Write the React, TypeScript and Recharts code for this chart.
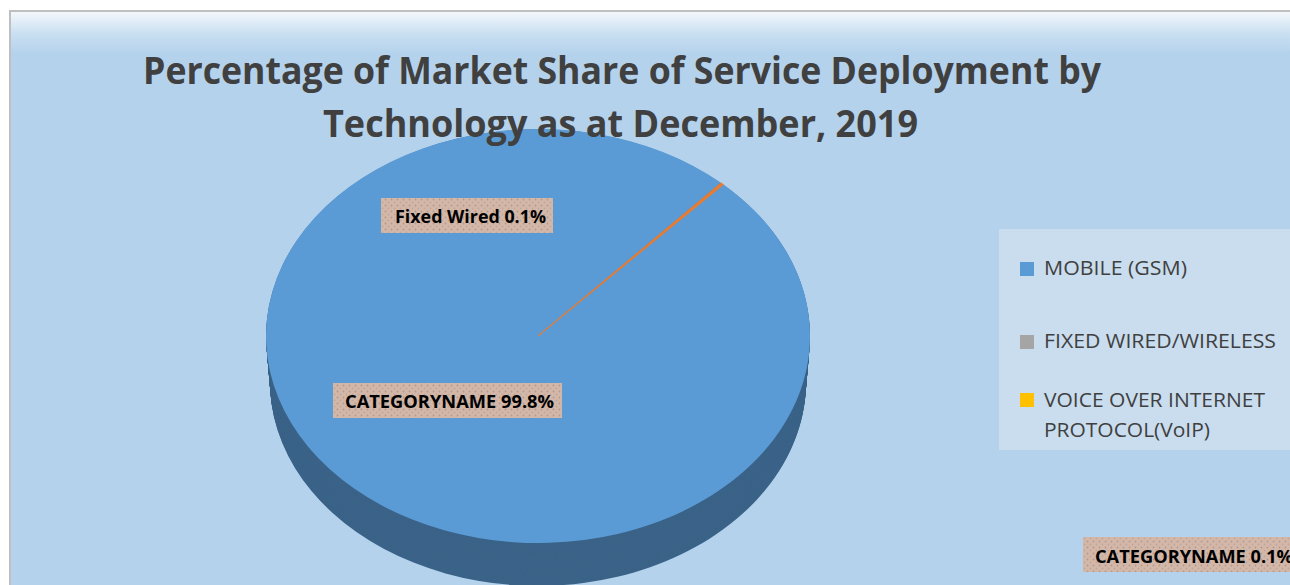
import React from 'react';
import { PieChart, Pie, Cell } from 'recharts';

const categories = ['MOBILE (GSM)', 'FIXED WIRED/WIRELESS', 'VOICE OVER INTERNET PROTOCOL(VoIP)'];
const shares = [99.8, 0.1, 0.1];
const sliceColors = ['#5B9BD5', '#ED7D31', '#E9833F'];
const sideColors = ['#3B6388', '#A04F1C', '#A04F1C'];
const legendColors = ['#5B9BD5', '#A5A5A5', '#FFC000'];
const sliceLabels = ['CATEGORYNAME 99.8%', 'Fixed Wired 0.1%', 'CATEGORYNAME 0.1%'];

const data = categories.map((name, i) => ({ name, value: shares[i] }));

const W = 1290;
const H = 585;
const TILT = 0.761;
const CX = 538;
const CY = 336 / TILT;
const R = 272;
const DEPTH = 46 / TILT;
const SHRINK = 4; // bottom edge a little narrower, like the perspective in the original
const START = 47;

const depthSteps: number[] = [];
for (let d = DEPTH; d > 0; d -= 1.5) depthSteps.push(d);

// label boxes placed where the original chart had them
const labelBoxes = [
  { x: 333, y: 383, w: 229, h: 35, tx: 345, ty: 408, tw: 209 },
  { x: 381, y: 198, w: 172, h: 35, tx: 395, ty: 223, tw: 151 },
  { x: 1083, y: 537, w: 224, h: 35, tx: 1095, ty: 563, tw: 198 },
];

const legendRows = [
  { sq: 262, lines: [{ t: 'MOBILE (GSM)', y: 275, w: 143 }] },
  { sq: 335, lines: [{ t: 'FIXED WIRED/WIRELESS', y: 348, w: 232 }] },
  {
    sq: 393,
    lines: [
      { t: 'VOICE OVER INTERNET', y: 407, w: 221 },
      { t: 'PROTOCOL(VoIP)', y: 437, w: 166 },
    ],
  },
];

const font = '"Open Sans", "Noto Sans", sans-serif';

export default function App() {
  return (
    <div
      style={{
        position: 'absolute',
        left: 0,
        top: 0,
        width: W,
        height: H,
        overflow: 'hidden',
        background: '#fff',
      }}
    >
      <div
        style={{
          position: 'absolute',
          left: 9,
          top: 10,
          width: W,
          height: H,
          borderLeft: '2px solid #BFBFBF',
          borderTop: '2px solid #BFBFBF',
          background: 'linear-gradient(to bottom, #F3F7FC 0px, #C9DFF1 22px, #B4D2EC 42px, #B4D2EC 100%)',
        }}
      />
      <div
        style={{
          position: 'absolute',
          left: 0,
          top: 0,
          width: W,
          height: 800,
          transform: `scaleY(${TILT})`,
          transformOrigin: '0 0',
        }}
      >
        <PieChart width={W} height={800} margin={{ top: 0, right: 0, bottom: 0, left: 0 }}>
          {depthSteps.map((d) => (
            <Pie
              key={'side' + d}
              data={data}
              dataKey="value"
              nameKey="name"
              cx={CX}
              cy={CY + d}
              outerRadius={R - (SHRINK * d) / DEPTH}
              startAngle={START}
              endAngle={START - 360}
              stroke="none"
              isAnimationActive={false}
            >
              {data.map((e, i) => (
                <Cell key={e.name} fill={sideColors[i]} />
              ))}
            </Pie>
          ))}
          <Pie
            data={data}
            dataKey="value"
            nameKey="name"
            cx={CX}
            cy={CY}
            outerRadius={R}
            startAngle={START}
            endAngle={START - 360}
            stroke="none"
            isAnimationActive={false}
          >
            {data.map((e, i) => (
              <Cell key={e.name} fill={sliceColors[i]} stroke={i > 0 ? '#ED7D31' : 'none'} strokeWidth={i > 0 ? 0.8 : 0} />
            ))}
          </Pie>
        </PieChart>
      </div>
      <svg
        width={W}
        height={H}
        style={{ position: 'absolute', left: 0, top: 0, fontFamily: font }}
      >
        <defs>
          <pattern id="dots" width="6" height="6" patternUnits="userSpaceOnUse">
            <rect width="6" height="6" fill="#D3B7A8" />
            <circle cx="1.5" cy="1.5" r="0.9" fill="#B59A8C" />
            <circle cx="4.5" cy="4.5" r="0.9" fill="#C2A698" />
          </pattern>
        </defs>
        <text x={143} y={84} fontSize={37} fontWeight={700} fill="#404040" textLength={958} lengthAdjust="spacingAndGlyphs">
          Percentage of Market Share of Service Deployment by
        </text>
        <text x={323} y={137} fontSize={37} fontWeight={700} fill="#404040" textLength={595} lengthAdjust="spacingAndGlyphs">
          Technology as at December, 2019
        </text>

        {labelBoxes.map((b, i) => (
          <g key={sliceLabels[i]}>
            <rect x={b.x} y={b.y} width={b.w} height={b.h} fill="url(#dots)" />
            <text x={b.tx} y={b.ty} fontSize={17.5} fontWeight={700} fill="#000" textLength={b.tw} lengthAdjust="spacingAndGlyphs">
              {sliceLabels[i]}
            </text>
          </g>
        ))}

        <rect x={999} y={229} width={300} height={221} fill="#C9DDEE" />
        {legendRows.map((row, i) => (
          <g key={categories[i]}>
            <rect x={1020} y={row.sq} width={14} height={14} fill={legendColors[i]} />
            {row.lines.map((l) => (
              <text key={l.t} x={1044} y={l.y} fontSize={20} fill="#404040" textLength={l.w} lengthAdjust="spacingAndGlyphs">
                {l.t}
              </text>
            ))}
          </g>
        ))}
      </svg>
    </div>
  );
}
